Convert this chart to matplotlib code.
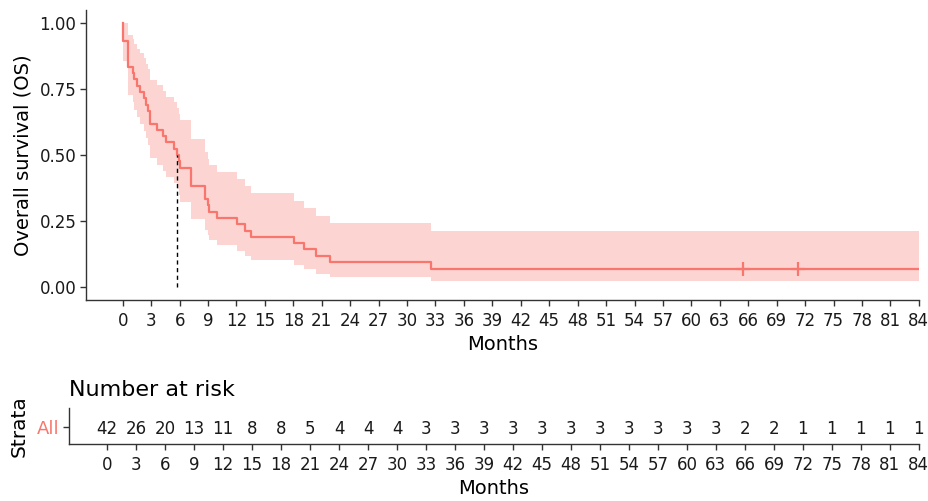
import numpy as np
import matplotlib.pyplot as plt

plt.rcParams['font.family'] = ['DejaVu Sans']

# Kaplan-Meier steps (months, survival, 95% CI)
times = [0, 0.07, 0.6, 1.05, 1.2, 1.5, 1.8, 2.2, 2.5, 2.7,
         2.9, 3.66, 4.29, 4.57, 5.42, 5.75, 5.9, 6.05, 7.18, 8.69,
         9.0, 9.1, 9.93, 12.04, 12.9, 13.5, 18.1, 19.15, 20.35, 21.9,
         32.5]
surv = [1.0, 0.929, 0.833, 0.810, 0.786, 0.762, 0.738, 0.714, 0.690, 0.667,
        0.619, 0.595, 0.571, 0.548, 0.524, 0.500, 0.476, 0.452, 0.381, 0.333,
        0.310, 0.286, 0.262, 0.238, 0.214, 0.190, 0.167, 0.143, 0.119, 0.095,
        0.071]
upper = [1.0, 1.0, 0.954, 0.937, 0.920, 0.902, 0.884, 0.865, 0.845, 0.826,
         0.785, 0.764, 0.743, 0.721, 0.699, 0.677, 0.654, 0.631, 0.560, 0.511,
         0.486, 0.461, 0.435, 0.409, 0.382, 0.355, 0.328, 0.300, 0.271, 0.242,
         0.213]
lower = [1.0, 0.854, 0.728, 0.699, 0.671, 0.643, 0.616, 0.590, 0.564, 0.538,
         0.488, 0.464, 0.440, 0.416, 0.393, 0.370, 0.347, 0.324, 0.259, 0.217,
         0.197, 0.177, 0.158, 0.139, 0.120, 0.102, 0.085, 0.068, 0.052, 0.038,
         0.024]
end_followup = 84
censor_times = [65.4, 71.3]
median_time = 5.75

risk_times = list(range(0, 85, 3))
risk_counts = [42, 26, 20, 13, 11, 8, 8, 5, 4, 4, 4,
               3, 3, 3, 3, 3, 3, 3, 3, 3, 3, 3,
               2, 2, 1, 1, 1, 1, 1]

red = '#F8766D'
txt = '#1a1a1a'

t = np.append(times, end_followup)
s = np.append(surv, surv[-1])
lo = np.append(lower, lower[-1])
up = np.append(upper, upper[-1])

fig = plt.figure(figsize=(9.29, 5.01), dpi=100)

# survival curve
ax = fig.add_axes([86/929, 1-300/501, 833/929, 290/501])
ax.fill_between(t, lo, up, step='post', color=red, alpha=0.3, lw=0)
ax.step(t, s, where='post', color=red, lw=1.6)
ax.plot(censor_times, [surv[-1]]*len(censor_times), '+', color=red,
        markersize=10, mew=1.6)
ax.plot([median_time, median_time], [0, 0.5], color='black', lw=1, ls=(0, (3, 2.5)))

ax.set_xlim(-3.88, 84.02)
ax.set_ylim(-0.048, 1.048)
ax.set_xticks(risk_times)
ax.set_yticks([0, 0.25, 0.5, 0.75, 1.0])
ax.set_yticklabels(['0.00', '0.25', '0.50', '0.75', '1.00'])
ax.set_xlabel('Months', fontsize=14, color='black', labelpad=4)
ax.set_ylabel('Overall survival (OS)', fontsize=14, color='black', labelpad=5)
for sp in ['top', 'right']:
    ax.spines[sp].set_visible(False)
for sp in ['left', 'bottom']:
    ax.spines[sp].set_color('#333333')
    ax.spines[sp].set_linewidth(1.0)
ax.tick_params(axis='both', labelsize=12, colors='#333333', labelcolor=txt,
               length=4, width=1, pad=3)
ax.tick_params(axis='x', pad=4.5)

# number at risk table
ax2 = fig.add_axes([69/929, 1-444/501, 850/929, 36/501])
ax2.set_xlim(-3.96, 84.02)
ax2.set_ylim(0, 1)
for x, n in zip(risk_times, risk_counts):
    ax2.text(x, 0.42, str(n), ha='center', va='center', fontsize=12, color=txt)
ax2.set_xticks(risk_times)
ax2.set_yticks([0.47])
ax2.set_yticklabels(['All'])
ax2.set_xlabel('Months', fontsize=14, color='black', labelpad=4)
ax2.set_ylabel('Strata', fontsize=14.5, color='black', labelpad=6)
ax2.set_title('Number at risk', loc='left', fontsize=16, pad=9)
for sp in ['top', 'right']:
    ax2.spines[sp].set_visible(False)
for sp in ['left', 'bottom']:
    ax2.spines[sp].set_color('#333333')
    ax2.spines[sp].set_linewidth(1.0)
ax2.tick_params(axis='both', labelsize=12, colors='#333333', labelcolor=txt,
                length=4, width=1, pad=3)
ax2.tick_params(axis='x', pad=4.5)
ax2.tick_params(axis='y', labelsize=13)
ax2.get_yticklabels()[0].set_color(red)

fig.savefig('out.png', dpi=100)
